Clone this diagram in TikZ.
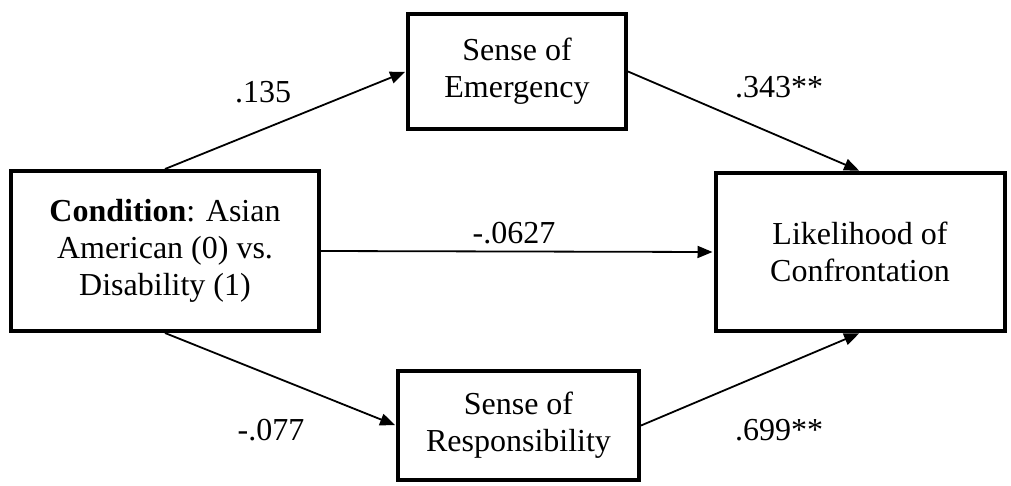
\documentclass[tikz,border=0pt]{standalone}
\usepackage{fontspec}
\setmainfont{Liberation Serif}
\usetikzlibrary{arrows.meta}
\begin{document}
\begin{tikzpicture}[x=1pt,y=-1pt,
  box/.style={draw, line width=4pt, align=center, inner sep=0pt,
    font=\fontsize{32}{37}\selectfont},
  arr/.style={line width=1.8pt, -{Triangle[length=15pt,width=12pt]}, shorten >=1pt},
  lab/.style={font=\fontsize{32}{37}\selectfont, inner sep=0pt}]
\useasboundingbox (0,0) rectangle (1011,485);
\node[box, minimum width=308pt, minimum height=160pt] (cond) at (165,251)
  {\textbf{Condition}: Asian\\American (0) vs.\\Disability (1)};
\node[box, minimum width=218pt, minimum height=115pt] (emer) at (517,71.5)
  {Sense of\\Emergency};
\node[box, minimum width=241pt, minimum height=109pt] (resp) at (518.5,425.5)
  {Sense of\\Responsibility};
\node[box, minimum width=289pt, minimum height=158pt] (like) at (860,252)
  {Likelihood of\\Confrontation};
\draw[arr] (cond.north) -- (emer.west);
\draw[arr] (cond.south) -- (resp.west);
\draw[arr] (cond.east) -- (like.west);
\draw[arr] (emer.east) -- (like.north);
\draw[arr] (resp.east) -- (like.south);
\node[lab] (l1) at (263,92) {.135};
\node[lab] (l2) at (779,87) {.343**};
\node[lab] (l3) at (514,233) {-.0627};
\node[lab] (l4) at (271,430) {-.077};
\node[lab] (l5) at (779,430) {.699**};
\end{tikzpicture}
\end{document}
